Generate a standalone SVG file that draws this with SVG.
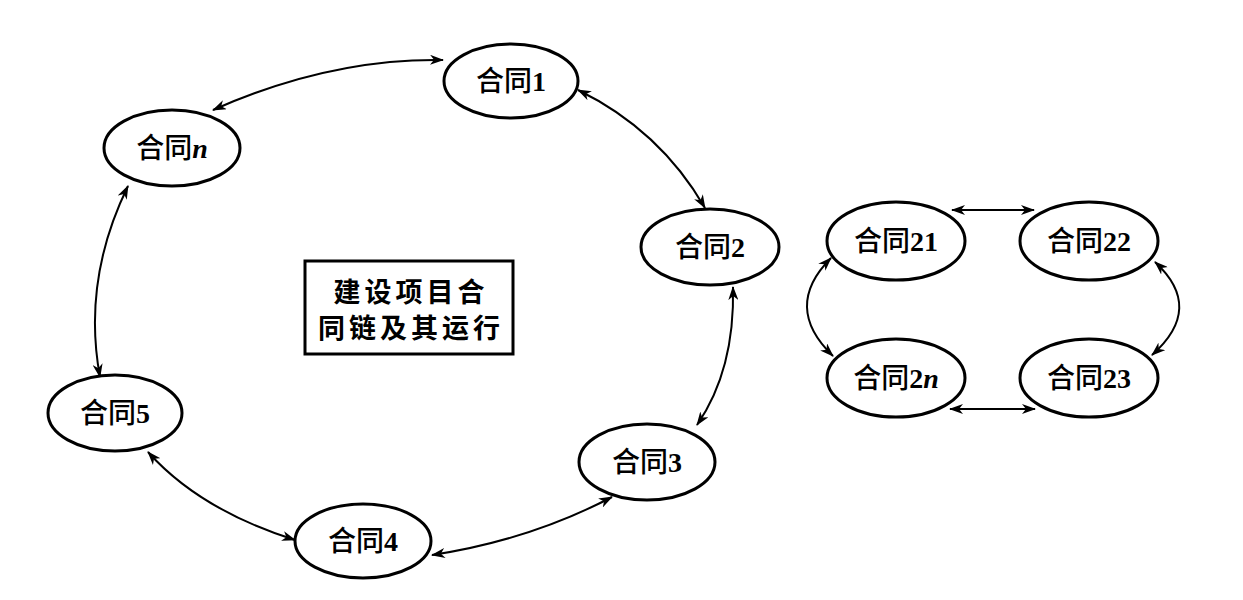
<svg xmlns="http://www.w3.org/2000/svg" width="1243" height="600" viewBox="0 0 1243 600">
<style>
.node ellipse{fill:#fff;stroke:#000;stroke-width:3}
.lbl{font-family:"Liberation Serif","Noto Sans CJK SC",serif;font-size:28px;font-weight:500;text-anchor:middle;fill:#000}
.d{font-weight:bold}
.box{fill:#fff;stroke:#000;stroke-width:3}
.boxt{font-family:"Noto Sans CJK SC",sans-serif;font-size:27px;font-weight:bold;text-anchor:middle;fill:#000;letter-spacing:4px}
.c{fill:none;stroke:#000;stroke-width:2;marker-start:url(#a);marker-end:url(#a)}
</style>
<defs>
<marker id="a" viewBox="0 0 14 10" refX="13" refY="5" markerWidth="14" markerHeight="10" markerUnits="userSpaceOnUse" orient="auto-start-reverse">
<path d="M0,0 L14,5 L0,10 L4,5 z" fill="#000"/>
</marker>
</defs>
<rect width="1243" height="600" fill="#fff"/>
<g id="connectors">
<path class="c" d="M213,110 Q330,58 443,60"/>
<path class="c" d="M578,90 Q660,130 705,208"/>
<path class="c" d="M733,287 Q735,370 697,425"/>
<path class="c" d="M612,497 Q530,540 432,555"/>
<path class="c" d="M295,540 Q200,510 148,452"/>
<path class="c" d="M100,377 Q82,280 128,186"/>
<path class="c" d="M952,210 L1034,210"/>
<path class="c" d="M950,409 L1035,409"/>
<path class="c" d="M831,258 Q782,307 833,356"/>
<path class="c" d="M1155,262 Q1205,308 1152,355"/>
</g>
<g id="box">
<rect class="box" x="305" y="261" width="208" height="93"/>
<text class="boxt" x="411" y="302">建设项目合</text>
<text class="boxt" x="411" y="338">同链及其运行</text>
</g>
<g id="n1" class="node"><ellipse cx="511" cy="81" rx="67" ry="37"/><text class="lbl" x="511" y="91">合同<tspan class="d">1</tspan></text></g>
<g id="nn" class="node"><ellipse cx="172" cy="148" rx="68" ry="38"/><text class="lbl" x="172" y="158">合同<tspan class="d" font-style="italic">n</tspan></text></g>
<g id="n2" class="node"><ellipse cx="710" cy="247" rx="69" ry="38"/><text class="lbl" x="710" y="257">合同<tspan class="d">2</tspan></text></g>
<g id="n3" class="node"><ellipse cx="647" cy="462" rx="68" ry="38"/><text class="lbl" x="647" y="472">合同<tspan class="d">3</tspan></text></g>
<g id="n4" class="node"><ellipse cx="363" cy="541" rx="68" ry="37"/><text class="lbl" x="363" y="551">合同<tspan class="d">4</tspan></text></g>
<g id="n5" class="node"><ellipse cx="115" cy="413" rx="67" ry="38"/><text class="lbl" x="115" y="423">合同<tspan class="d">5</tspan></text></g>
<g id="n21" class="node"><ellipse cx="896" cy="241" rx="69" ry="39"/><text class="lbl" x="896" y="251">合同<tspan class="d">21</tspan></text></g>
<g id="n22" class="node"><ellipse cx="1089" cy="241" rx="69" ry="39"/><text class="lbl" x="1089" y="251">合同<tspan class="d">22</tspan></text></g>
<g id="n2n" class="node"><ellipse cx="896" cy="378" rx="69" ry="39"/><text class="lbl" x="896" y="388">合同<tspan class="d">2</tspan><tspan class="d" font-style="italic">n</tspan></text></g>
<g id="n23" class="node"><ellipse cx="1089" cy="378" rx="69" ry="39"/><text class="lbl" x="1089" y="388">合同<tspan class="d">23</tspan></text></g>
</svg>
